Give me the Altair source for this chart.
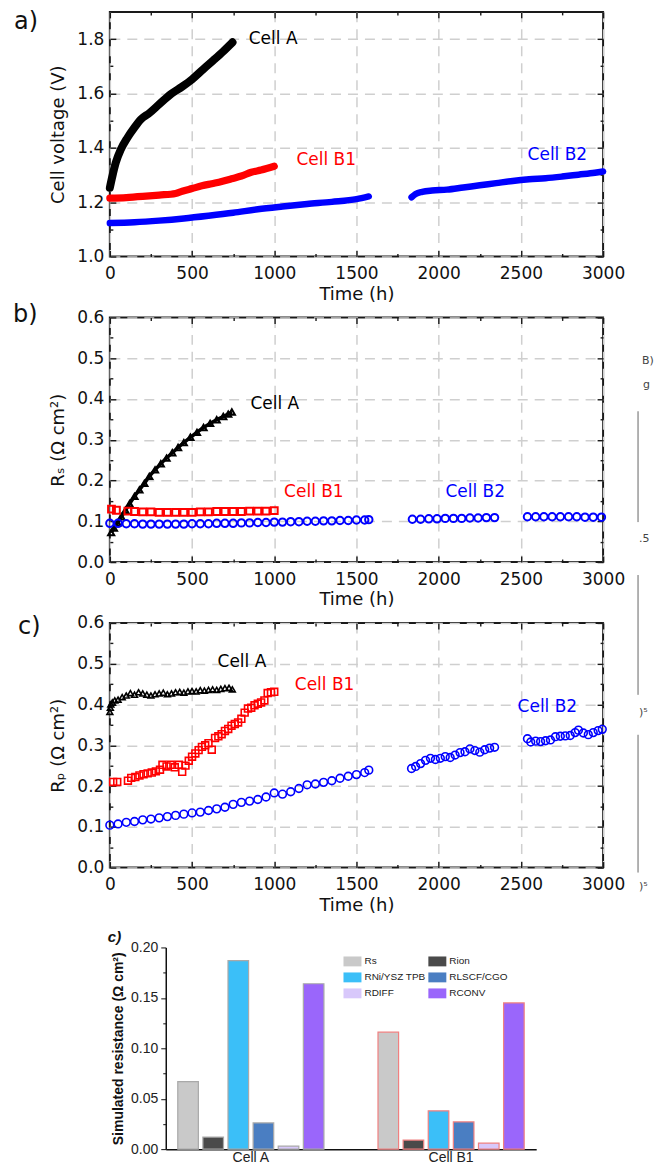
import altair as alt
import pandas as pd

FONT = "DejaVu Sans"
BFONT = "Liberation Sans"
FRAME = "#1a1a1a"
cells = ["Cell A", "Cell B1", "Cell B2"]
cell_colors = ["#000000", "#ff0000", "#0000ff"]

# ---------------- panel a: cell voltage ----------------
a_A_t = [0, 16, 36, 67, 107, 148, 188, 241, 300, 370, 440, 500, 570, 630, 690, 746]
a_A_v = [1.253, 1.297, 1.345, 1.394, 1.437, 1.473, 1.504, 1.528, 1.56, 1.597, 1.625, 1.652, 1.69, 1.722, 1.755, 1.788]
a_B1_t = [0, 100, 200, 300, 400, 440, 500, 560, 620, 680, 740, 800, 860, 920, 1000]
a_B1_v = [1.215, 1.217, 1.221, 1.226, 1.232, 1.240, 1.250, 1.260, 1.268, 1.276, 1.286, 1.296, 1.310, 1.318, 1.332]
a_B2a_t = [0, 150, 300, 450, 600, 750, 900, 1050, 1200, 1350, 1500, 1575]
a_B2a_v = [1.123, 1.126, 1.132, 1.140, 1.150, 1.161, 1.174, 1.184, 1.193, 1.201, 1.211, 1.221]
a_B2b_t = [1835, 1860, 1900, 1960, 2050, 2150, 2250, 2350, 2450, 2550, 2650, 2750, 2850, 2950, 3000]
a_B2b_v = [1.218, 1.230, 1.238, 1.243, 1.246, 1.254, 1.262, 1.270, 1.278, 1.284, 1.288, 1.294, 1.301, 1.308, 1.313]
a_lab_t = [845, 1135, 2541]
a_lab_v = [1.80, 1.356, 1.374]

# ---------------- panel b: Rs ----------------
b_A_t = [8, 25, 47, 70, 95, 120, 150, 180, 210, 240, 275, 310, 345, 380, 415, 450, 490, 530, 570, 610, 650, 690, 720, 742]
b_A_v = [0.072, 0.083, 0.096, 0.111, 0.127, 0.143, 0.161, 0.177, 0.193, 0.210, 0.226, 0.241, 0.255, 0.268, 0.281,
         0.293, 0.306, 0.318, 0.330, 0.340, 0.349, 0.357, 0.363, 0.368]
b_B1_t = [10, 40, 110, 150, 200, 250, 300, 350, 400, 450, 500, 550, 600, 650, 700, 750, 800, 850, 900, 950, 1000]
b_B1_v = [0.130, 0.127, 0.125, 0.124, 0.123, 0.123, 0.122, 0.122, 0.122, 0.122, 0.122, 0.123, 0.123, 0.124, 0.124,
          0.124, 0.124, 0.125, 0.125, 0.125, 0.126]
b_B2a_t = [0, 50, 100, 150, 200, 250, 300, 350, 400, 450, 500, 550, 600, 650, 700, 750, 800, 850, 900, 950, 1000,
           1050, 1100, 1150, 1200, 1250, 1300, 1350, 1400, 1450, 1500, 1550, 1575]
b_B2a_v = [0.095, 0.095, 0.094, 0.094, 0.093, 0.093, 0.093, 0.093, 0.093, 0.093, 0.094, 0.094, 0.094, 0.095, 0.095,
           0.095, 0.096, 0.096, 0.097, 0.097, 0.098, 0.098, 0.099, 0.099, 0.100, 0.100, 0.101, 0.101, 0.102, 0.102,
           0.103, 0.103, 0.104]
b_B2b_t = [1840, 1890, 1940, 1990, 2040, 2090, 2140, 2190, 2240, 2290, 2340]
b_B2b_v = [0.105, 0.105, 0.106, 0.106, 0.107, 0.107, 0.107, 0.108, 0.108, 0.109, 0.109]
b_B2c_t = [2540, 2590, 2640, 2690, 2740, 2790, 2840, 2890, 2940, 2990]
b_B2c_v = [0.111, 0.111, 0.111, 0.111, 0.111, 0.111, 0.111, 0.110, 0.110, 0.110]
b_lab_t = [855, 1060, 2041]
b_lab_v = [0.388, 0.171, 0.171]

# ---------------- panel c: Rp ----------------
c_A_t = [0, 3, 6, 15, 30, 50, 75, 100, 125, 150, 175, 200, 225, 250, 275, 300, 325, 350, 375, 400, 425, 450, 475,
         500, 525, 550, 575, 600, 625, 650, 675, 700, 725, 745]
c_A_v = [0.382, 0.392, 0.400, 0.405, 0.410, 0.412, 0.418, 0.422, 0.428, 0.424, 0.430, 0.427, 0.424, 0.422, 0.425,
         0.427, 0.429, 0.425, 0.427, 0.430, 0.431, 0.429, 0.432, 0.433, 0.432, 0.435, 0.434, 0.436, 0.437, 0.436,
         0.438, 0.440, 0.441, 0.437]
c_B1_t = [20, 45, 110, 130, 155, 180, 205, 230, 255, 280, 305, 320, 345, 370, 395, 420, 440, 460, 480, 500, 520, 540,
          560, 580, 600, 620, 640, 660, 680, 700, 720, 740, 760, 780, 800, 820, 840, 860, 880, 900, 920, 940, 960,
          980, 1000]
c_B1_v = [0.210, 0.210, 0.213, 0.220, 0.222, 0.226, 0.229, 0.231, 0.233, 0.236, 0.240, 0.252, 0.248, 0.252, 0.246,
          0.252, 0.235, 0.250, 0.262, 0.272, 0.280, 0.288, 0.296, 0.300, 0.305, 0.289, 0.318, 0.322, 0.327, 0.335,
          0.340, 0.348, 0.352, 0.356, 0.365, 0.380, 0.390, 0.392, 0.398, 0.402, 0.405, 0.410, 0.428, 0.430, 0.431]
c_B2a_t = [0, 50, 100, 150, 200, 250, 300, 350, 400, 450, 500, 550, 600, 650, 700, 750, 800, 850, 900, 950, 1000,
           1050, 1100, 1150, 1200, 1250, 1300, 1350, 1400, 1450, 1500, 1550, 1575]
c_B2a_v = [0.104, 0.107, 0.111, 0.113, 0.117, 0.119, 0.122, 0.125, 0.128, 0.131, 0.134, 0.136, 0.140, 0.144, 0.148,
           0.155, 0.160, 0.163, 0.167, 0.173, 0.183, 0.180, 0.186, 0.194, 0.203, 0.205, 0.209, 0.213, 0.219, 0.224,
           0.228, 0.233, 0.239]
c_B2b_t = [1835, 1860, 1890, 1920, 1950, 1980, 2010, 2040, 2070, 2100, 2130, 2160, 2190, 2220, 2250, 2280, 2310, 2340]
c_B2b_v = [0.243, 0.248, 0.255, 0.263, 0.268, 0.265, 0.268, 0.272, 0.270, 0.276, 0.282, 0.284, 0.291, 0.287, 0.283,
           0.289, 0.293, 0.295]
c_B2c_t = [2540, 2560, 2590, 2620, 2650, 2680, 2710, 2740, 2770, 2800, 2830, 2850, 2880, 2910, 2940, 2970, 2995]
c_B2c_v = [0.316, 0.308, 0.310, 0.309, 0.311, 0.313, 0.321, 0.322, 0.323, 0.324, 0.331, 0.337, 0.330, 0.326, 0.331,
           0.336, 0.339]
c_lab_t = [655, 1125, 2480]
c_lab_v = [0.505, 0.448, 0.393]

# ---------------- panel d: simulated resistances ----------------
bar_cells = ["Cell A", "Cell B1"]
components = ["Rs", "Rion", "RNi/YSZ TPB", "RLSCF/CGO", "RDIFF", "RCONV"]
comp_colors = ["#c9c9c9", "#4a4a4a", "#3bbff8", "#4a7ec2", "#d8c8fb", "#9a66fb"]
res_cellA = [0.067, 0.012, 0.187, 0.026, 0.003, 0.164]
res_cellB1 = [0.116, 0.009, 0.038, 0.027, 0.006, 0.145]

# fragments of a neighbouring figure visible at the right edge
frag_b = ["B)", "g", ".5"]
frag_c = [")⁵", ")⁵"]

X_MAJ = [0, 500, 1000, 1500, 2000, 2500, 3000]
X_MIN = [250, 750, 1250, 1750, 2250, 2750]


def long_df(series):
    rows = []
    for cell, seg, ts, vs in series:
        for t, v in zip(ts, vs):
            rows.append({"cell": cell, "seg": seg, "t": t, "v": v})
    return pd.DataFrame(rows)


def lab_df(ts, vs):
    return pd.DataFrame({"cell": cells, "t": ts, "v": vs})


color_enc = alt.Color("cell:N", scale=alt.Scale(domain=cells, range=cell_colors), legend=None)
ONE = pd.DataFrame({"k": [0]})


def tick_axis(orient, values, size):
    return alt.Axis(orient=orient, values=values, offset=-size, tickSize=size, tickWidth=1.4,
                    tickColor=FRAME, domain=False, labels=False, grid=False, title=None)


def axis_layers(df, ydom, ymaj, ymin, ytitle):
    xs = alt.Scale(domain=[0, 3000], nice=False, zero=False)
    ys = alt.Scale(domain=ydom, nice=False, zero=False)
    main = alt.Chart(df).mark_point(opacity=0).encode(
        x=alt.X("t:Q", scale=xs, axis=alt.Axis(
            orient="bottom", values=X_MAJ, format="d", offset=-6, tickSize=6, tickWidth=1.4, tickColor=FRAME,
            domain=False, grid=True, gridDash=[10, 7], gridColor="#cfcfcf", gridWidth=1.5,
            labelFont=FONT, labelFontSize=17, labelColor="#111", labelPadding=9, labelFlush=False,
            title="Time (h)", titleFont=FONT, titleFontSize=18, titleFontWeight="normal",
            titleColor="#111", titlePadding=4)),
        y=alt.Y("v:Q", scale=ys, axis=alt.Axis(
            orient="left", values=ymaj, format=".1f", offset=-6, tickSize=6, tickWidth=1.4, tickColor=FRAME,
            domain=False, grid=True, gridDash=[10, 7], gridColor="#cfcfcf", gridWidth=1.5,
            labelFont=FONT, labelFontSize=17, labelColor="#111", labelPadding=6, labelFlush=False,
            title=ytitle, titleFont=FONT, titleFontSize=18, titleFontWeight="normal",
            titleColor="#111", titlePadding=9)),
    )
    mirror = alt.Chart(df).mark_point(opacity=0).encode(
        x=alt.X("t:Q", scale=xs, axis=tick_axis("top", X_MAJ, 6)),
        y=alt.Y("v:Q", scale=ys, axis=tick_axis("right", ymaj, 6)),
    )
    minor1 = alt.Chart(df).mark_point(opacity=0).encode(
        x=alt.X("t:Q", scale=xs, axis=tick_axis("bottom", X_MIN, 3)),
        y=alt.Y("v:Q", scale=ys, axis=tick_axis("left", ymin, 3)),
    )
    minor2 = alt.Chart(df).mark_point(opacity=0).encode(
        x=alt.X("t:Q", scale=xs, axis=tick_axis("top", X_MIN, 3)),
        y=alt.Y("v:Q", scale=ys, axis=tick_axis("right", ymin, 3)),
    )
    return [main, mirror, minor1, minor2]


def labels_layer(ldf):
    return alt.Chart(ldf).mark_text(font=FONT, fontSize=17, align="left", baseline="middle").encode(
        x=alt.X("t:Q", axis=None), y=alt.Y("v:Q", axis=None), color=color_enc, text="cell:N")


def panel_tag(text, dx, dy):
    return alt.Chart(ONE).mark_text(
        text=text, font=FONT, fontSize=24, align="left", baseline="middle", color="#111").encode(
        x=alt.value(dx), y=alt.value(dy))


def frag_text(text, dx, dy):
    return alt.Chart(ONE).mark_text(
        text=text, font=FONT, fontSize=11, align="left", baseline="middle", color="#444").encode(
        x=alt.value(dx), y=alt.value(dy))


def frag_line(dx, y1, y2):
    return alt.Chart(ONE).mark_rule(color="#666", strokeWidth=1).encode(
        x=alt.value(dx), y=alt.value(y1), y2=alt.value(y2))


W, H = 494, 245
frame = alt.ViewBackground(stroke=FRAME, strokeWidth=2)

# panel a
df_a = long_df([("Cell A", "1", a_A_t, a_A_v), ("Cell B1", "1", a_B1_t, a_B1_v),
                ("Cell B2", "1", a_B2a_t, a_B2a_v), ("Cell B2", "2", a_B2b_t, a_B2b_v)])
lines_a = alt.Chart(df_a).mark_line(strokeCap="round", strokeJoin="round", interpolate="monotone").encode(
    x=alt.X("t:Q", axis=None), y=alt.Y("v:Q", axis=None), color=color_enc,
    strokeWidth=alt.StrokeWidth("cell:N", scale=alt.Scale(domain=cells, range=[8, 6.5, 6.5]), legend=None),
    detail="seg:N", order="t:Q")
panel_a = alt.layer(
    *axis_layers(df_a, [1.0, 1.9], [1.0, 1.2, 1.4, 1.6, 1.8], [1.1, 1.3, 1.5, 1.7], "Cell voltage (V)"),
    lines_a, labels_layer(lab_df(a_lab_t, a_lab_v)), panel_tag("a)", -96, 10)
).resolve_axis(x="independent", y="independent").properties(width=W, height=H, view=frame)

shape_enc = alt.Shape("cell:N", scale=alt.Scale(domain=cells, range=["triangle-up", "square", "circle"]),
                      legend=None)

# panel b
df_b = long_df([("Cell A", "1", b_A_t, b_A_v), ("Cell B1", "1", b_B1_t, b_B1_v),
                ("Cell B2", "1", b_B2a_t, b_B2a_v), ("Cell B2", "2", b_B2b_t, b_B2b_v),
                ("Cell B2", "3", b_B2c_t, b_B2c_v)])
line_b = alt.Chart(df_b[df_b.cell == "Cell A"]).mark_line(strokeWidth=3.5, color="#000",
                                                          interpolate="monotone").encode(
    x=alt.X("t:Q", axis=None), y=alt.Y("v:Q", axis=None))
pts_b = alt.Chart(df_b).mark_point(filled=False, strokeWidth=2, opacity=1).encode(
    x=alt.X("t:Q", axis=None), y=alt.Y("v:Q", axis=None), color=color_enc, shape=shape_enc,
    size=alt.Size("cell:N", scale=alt.Scale(domain=cells, range=[38, 55, 34]), legend=None))
ymaj_r = [0.0, 0.1, 0.2, 0.3, 0.4, 0.5, 0.6]
ymin_r = [0.05, 0.15, 0.25, 0.35, 0.45, 0.55]
panel_b = alt.layer(
    *axis_layers(df_b, [0.0, 0.6], ymaj_r, ymin_r, "Rₛ  (Ω cm²)"),
    line_b, pts_b, labels_layer(lab_df(b_lab_t, b_lab_v)), panel_tag("b)", -97, -2),
    frag_text(frag_b[0], 533, 44), frag_text(frag_b[1], 534, 68), frag_line(529, 94, 205),
    frag_text(frag_b[2], 530, 222), frag_line(529, 258, 378)
).resolve_axis(x="independent", y="independent").properties(width=W, height=H, view=frame)

# panel c
df_c = long_df([("Cell A", "1", c_A_t, c_A_v), ("Cell B1", "1", c_B1_t, c_B1_v),
                ("Cell B2", "1", c_B2a_t, c_B2a_v), ("Cell B2", "2", c_B2b_t, c_B2b_v),
                ("Cell B2", "3", c_B2c_t, c_B2c_v)])
pts_c = alt.Chart(df_c).mark_point(filled=False, strokeWidth=1.6, opacity=1).encode(
    x=alt.X("t:Q", axis=None), y=alt.Y("v:Q", axis=None), color=color_enc, shape=shape_enc,
    size=alt.Size("cell:N", scale=alt.Scale(domain=cells, range=[34, 60, 55]), legend=None))
panel_c = alt.layer(
    *axis_layers(df_c, [0.0, 0.6], ymaj_r, ymin_r, "Rₚ  (Ω cm²)"),
    pts_c, labels_layer(lab_df(c_lab_t, c_lab_v)), panel_tag("c)", -92, 4),
    frag_text(frag_c[0], 530, 90), frag_line(529, 112, 250), frag_text(frag_c[1], 530, 264)
).resolve_axis(x="independent", y="independent").properties(width=W, height=H, view=frame)

# panel d
rows = []
for cell, vals in zip(bar_cells, [res_cellA, res_cellB1]):
    for comp, v in zip(components, vals):
        rows.append({"cell": cell, "comp": comp, "val": v})
df_d = pd.DataFrame(rows)
HD = 221
yscale_d = alt.Scale(domain=[0, 0.2], range=[HD, 19], nice=False, zero=True)
bars = alt.Chart(df_d).mark_bar(strokeWidth=1.2).encode(
    x=alt.X("cell:N", sort=bar_cells,
            scale=alt.Scale(range=[56, 427], paddingInner=0.27, paddingOuter=0.06),
            axis=alt.Axis(orient="bottom", ticks=False, domainColor="#111", domainWidth=1.5, labelAngle=0,
                          labelFont=BFONT, labelFontSize=14, labelColor="#222", labelPadding=1, title=None)),
    xOffset=alt.XOffset("comp:N", sort=components, scale=alt.Scale(paddingInner=0.18, paddingOuter=0)),
    y=alt.Y("val:Q", scale=yscale_d, axis=alt.Axis(
        orient="left", offset=-56, values=[0, 0.05, 0.10, 0.15, 0.20], format=".2f", tickSize=5,
        tickColor="#111", domainColor="#111", domainWidth=1.5, grid=False,
        labelFont=BFONT, labelFontSize=14, labelColor="#222", labelPadding=3,
        title="Simulated resistance (Ω cm²)", titleFont=BFONT, titleFontSize=14, titleFontWeight="bold",
        titleColor="#111", titlePadding=5)),
    color=alt.Color("comp:N", sort=components, scale=alt.Scale(domain=components, range=comp_colors),
                    legend=alt.Legend(orient="none", legendX=234, legendY=24, columns=2, direction="horizontal",
                                      title=None, symbolType="M-1,-0.55H1V0.55H-1Z", symbolSize=324,
                                      symbolStrokeWidth=0, symbolOpacity=1, labelFont=BFONT, labelFontSize=10,
                                      labelColor="#222", labelOffset=3, columnPadding=2, rowPadding=2)),
    stroke=alt.condition("datum.cell == 'Cell B1'", alt.value("#f08080"), alt.value("#a9a9a9")),
)
minor_d = alt.Chart(df_d).mark_point(opacity=0).encode(
    y=alt.Y("val:Q", scale=yscale_d, axis=alt.Axis(
        orient="left", offset=-56, values=[0.025, 0.075, 0.125, 0.175], tickSize=3, tickColor="#111",
        domain=False, labels=False, grid=False, title=None)))
tag_d = alt.Chart(ONE).mark_text(
    text="c)", font=BFONT, fontSize=15, fontWeight="bold", fontStyle="italic", align="left",
    baseline="middle", color="#111").encode(x=alt.value(-2), y=alt.value(9))
panel_d = alt.layer(bars, minor_d, tag_d).resolve_axis(y="independent").properties(
    width=W, height=HD, view=alt.ViewBackground(strokeWidth=0))

chart = alt.vconcat(panel_a, panel_b, panel_c, panel_d, spacing=61, bounds="flush").resolve_scale(
    color="independent", shape="independent", size="independent", strokeWidth="independent",
    stroke="independent"
).properties(
    padding={"left": 4, "top": 0, "right": 4, "bottom": 0}
).configure_view(strokeWidth=0)

chart.save("out.html", embed_options={"renderer": "svg", "actions": False})
